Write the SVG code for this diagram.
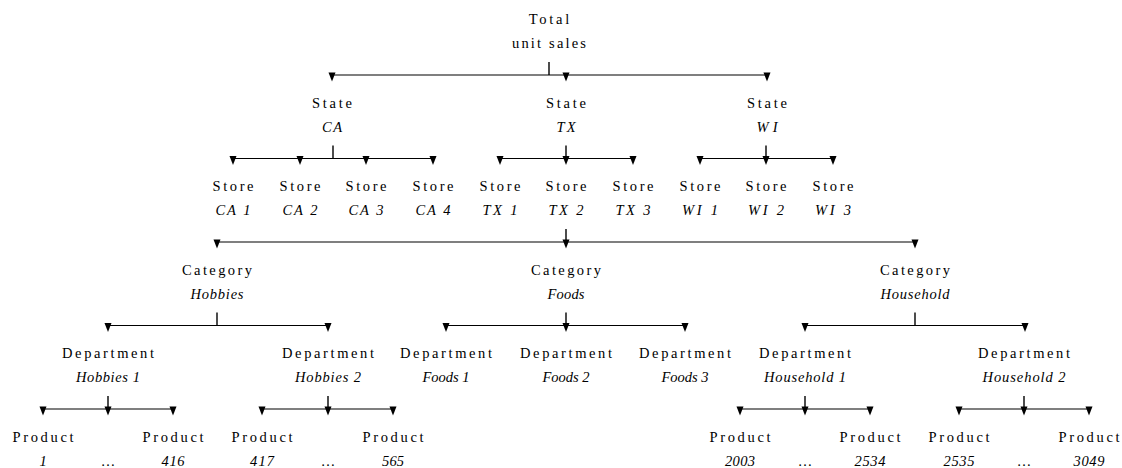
<svg xmlns="http://www.w3.org/2000/svg" xmlns:xlink="http://www.w3.org/1999/xlink" width="1122" height="468" viewBox="0 0 1122 468">
<style>
text{font-family:"Liberation Serif","Times New Roman",serif;font-size:14.5px;fill:#000;text-anchor:middle}
.it{font-style:italic}
.h{stroke:#000;stroke-width:1.1;fill:none}
.s{stroke:#000;stroke-width:1.4;fill:none}
</style>
<defs>
<path id="ah" d="M-3.5,-2.5 L3.5,-2.5 L0,6.5 Z" fill="#000"/>
</defs>
<rect width="1122" height="468" fill="#fff"/>
<g id="connectors">
<path class="s" d="M549,62 V75"/>
<path class="h" d="M332,75 H767"/>
<use xlink:href="#ah" x="332" y="75"/><use xlink:href="#ah" x="566" y="75"/><use xlink:href="#ah" x="767" y="75"/>
<path class="s" d="M333,145.5 V158.5"/>
<path class="h" d="M233,158.5 H433"/>
<use xlink:href="#ah" x="233" y="158.5"/><use xlink:href="#ah" x="300" y="158.5"/><use xlink:href="#ah" x="366" y="158.5"/><use xlink:href="#ah" x="433" y="158.5"/>
<path class="s" d="M566,145.5 V158.5"/>
<path class="h" d="M500,158.5 H633"/>
<use xlink:href="#ah" x="500" y="158.5"/><use xlink:href="#ah" x="566" y="158.5"/><use xlink:href="#ah" x="633" y="158.5"/>
<path class="s" d="M766,145.5 V158.5"/>
<path class="h" d="M700,158.5 H833"/>
<use xlink:href="#ah" x="700" y="158.5"/><use xlink:href="#ah" x="766" y="158.5"/><use xlink:href="#ah" x="833" y="158.5"/>
<path class="s" d="M566,229 V242"/>
<path class="h" d="M217,242 H915"/>
<use xlink:href="#ah" x="217" y="242"/><use xlink:href="#ah" x="566" y="242"/><use xlink:href="#ah" x="915" y="242"/>
<path class="s" d="M217,312.5 V325.5"/>
<path class="h" d="M108,325.5 H328"/>
<use xlink:href="#ah" x="108" y="325.5"/><use xlink:href="#ah" x="328" y="325.5"/>
<path class="s" d="M566,312.5 V325.5"/>
<path class="h" d="M446,325.5 H685"/>
<use xlink:href="#ah" x="446" y="325.5"/><use xlink:href="#ah" x="566" y="325.5"/><use xlink:href="#ah" x="685" y="325.5"/>
<path class="s" d="M915,312.5 V325.5"/>
<path class="h" d="M805,325.5 H1025"/>
<use xlink:href="#ah" x="805" y="325.5"/><use xlink:href="#ah" x="1025" y="325.5"/>
<path class="s" d="M108,396 V409"/>
<path class="h" d="M43,409 H173"/>
<use xlink:href="#ah" x="43" y="409"/><use xlink:href="#ah" x="108" y="409"/><use xlink:href="#ah" x="173" y="409"/>
<path class="s" d="M328,396 V409"/>
<path class="h" d="M262,409 H393"/>
<use xlink:href="#ah" x="262" y="409"/><use xlink:href="#ah" x="328" y="409"/><use xlink:href="#ah" x="393" y="409"/>
<path class="s" d="M805,396 V409"/>
<path class="h" d="M740,409 H870"/>
<use xlink:href="#ah" x="740" y="409"/><use xlink:href="#ah" x="805" y="409"/><use xlink:href="#ah" x="870" y="409"/>
<path class="s" d="M1024,396 V409"/>
<path class="h" d="M959,409 H1089"/>
<use xlink:href="#ah" x="959" y="409"/><use xlink:href="#ah" x="1024" y="409"/><use xlink:href="#ah" x="1089" y="409"/>
</g>
<g id="n-total"><text x="549" y="24" textLength="40.7">Total</text><text x="549" y="48" textLength="74">unit sales</text></g>
<g id="n-state-ca"><text x="332" y="107.5" textLength="40">State</text><text class="it" x="332" y="131.5" textLength="20">CA</text></g>
<g id="n-state-tx"><text x="566" y="107.5" textLength="40">State</text><text class="it" x="566" y="131.5" textLength="19">TX</text></g>
<g id="n-state-wi"><text x="767" y="107.5" textLength="40">State</text><text class="it" x="767" y="131.5" textLength="21">WI</text></g>
<g id="n-store-ca1"><text x="233" y="191" textLength="41">Store</text><text class="it" x="233" y="215" textLength="35">CA 1</text></g>
<g id="n-store-ca2"><text x="300" y="191" textLength="41">Store</text><text class="it" x="300" y="215" textLength="35">CA 2</text></g>
<g id="n-store-ca3"><text x="366" y="191" textLength="41">Store</text><text class="it" x="366" y="215" textLength="35">CA 3</text></g>
<g id="n-store-ca4"><text x="433" y="191" textLength="41">Store</text><text class="it" x="433" y="215" textLength="35">CA 4</text></g>
<g id="n-store-tx1"><text x="500" y="191" textLength="41">Store</text><text class="it" x="500" y="215" textLength="35">TX 1</text></g>
<g id="n-store-tx2"><text x="566" y="191" textLength="41">Store</text><text class="it" x="566" y="215" textLength="35">TX 2</text></g>
<g id="n-store-tx3"><text x="633" y="191" textLength="41">Store</text><text class="it" x="633" y="215" textLength="35">TX 3</text></g>
<g id="n-store-wi1"><text x="700" y="191" textLength="41">Store</text><text class="it" x="700" y="215" textLength="36">WI 1</text></g>
<g id="n-store-wi2"><text x="766" y="191" textLength="41">Store</text><text class="it" x="766" y="215" textLength="36">WI 2</text></g>
<g id="n-store-wi3"><text x="833" y="191" textLength="41">Store</text><text class="it" x="833" y="215" textLength="36">WI 3</text></g>
<g id="n-cat-hobbies"><text x="217" y="275" textLength="70">Category</text><text class="it" x="217" y="299" textLength="53">Hobbies</text></g>
<g id="n-cat-foods"><text x="566" y="275" textLength="70">Category</text><text class="it" x="566" y="299" textLength="37">Foods</text></g>
<g id="n-cat-household"><text x="915" y="275" textLength="70">Category</text><text class="it" x="915" y="299" textLength="69">Household</text></g>
<g id="n-dep-hobbies1"><text x="108" y="358" textLength="92">Department</text><text class="it" x="108" y="382" textLength="64">Hobbies 1</text></g>
<g id="n-dep-hobbies2"><text x="328" y="358" textLength="92">Department</text><text class="it" x="328" y="382" textLength="66">Hobbies 2</text></g>
<g id="n-dep-foods1"><text x="446" y="358" textLength="92">Department</text><text class="it" x="446" y="382" textLength="47">Foods 1</text></g>
<g id="n-dep-foods2"><text x="566" y="358" textLength="92">Department</text><text class="it" x="566" y="382" textLength="47">Foods 2</text></g>
<g id="n-dep-foods3"><text x="685" y="358" textLength="92">Department</text><text class="it" x="685" y="382" textLength="47">Foods 3</text></g>
<g id="n-dep-household1"><text x="805" y="358" textLength="92">Department</text><text class="it" x="805" y="382" textLength="82">Household 1</text></g>
<g id="n-dep-household2"><text x="1024" y="358" textLength="92">Department</text><text class="it" x="1024" y="382" textLength="83">Household 2</text></g>
<g id="n-prod-1"><text x="43" y="442" textLength="61">Product</text><text class="it" x="43" y="466">1</text></g>
<g id="n-prod-dots1"><text x="108" y="466" textLength="14">…</text></g>
<g id="n-prod-416"><text x="173" y="442" textLength="61">Product</text><text class="it" x="173" y="466" textLength="23">416</text></g>
<g id="n-prod-417"><text x="262" y="442" textLength="61">Product</text><text class="it" x="262" y="466" textLength="24">417</text></g>
<g id="n-prod-dots2"><text x="328" y="466" textLength="14">…</text></g>
<g id="n-prod-565"><text x="393" y="442" textLength="61">Product</text><text class="it" x="393" y="466" textLength="22">565</text></g>
<g id="n-prod-2003"><text x="740" y="442" textLength="61">Product</text><text class="it" x="740" y="466" textLength="30">2003</text></g>
<g id="n-prod-dots3"><text x="805" y="466" textLength="14">…</text></g>
<g id="n-prod-2534"><text x="870" y="442" textLength="61">Product</text><text class="it" x="870" y="466" textLength="31">2534</text></g>
<g id="n-prod-2535"><text x="959" y="442" textLength="61">Product</text><text class="it" x="959" y="466" textLength="31">2535</text></g>
<g id="n-prod-dots4"><text x="1024" y="466" textLength="14">…</text></g>
<g id="n-prod-3049"><text x="1089" y="442" textLength="61">Product</text><text class="it" x="1089" y="466" textLength="31">3049</text></g>
</svg>
